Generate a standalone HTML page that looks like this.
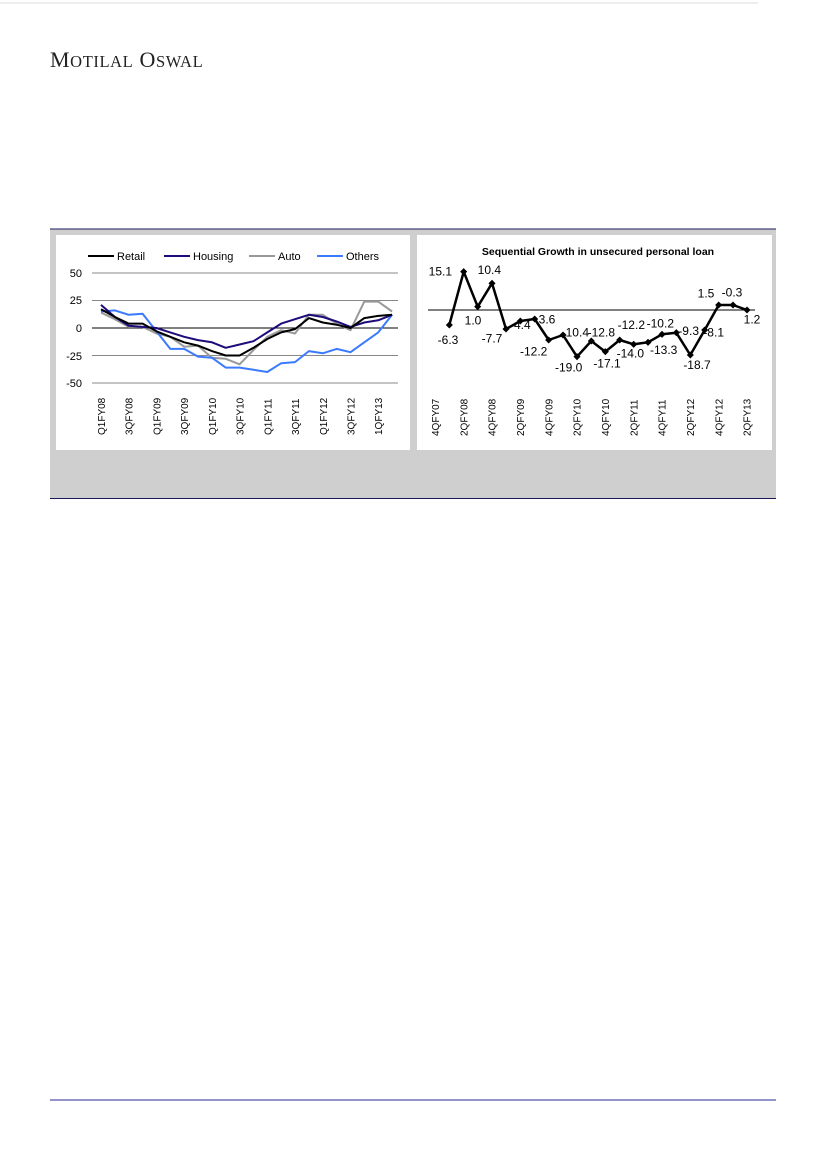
<!DOCTYPE html>
<html><head><meta charset="utf-8"><style>
body{margin:0;background:#fff;width:826px;height:1169px;position:relative;overflow:hidden;font-family:"Liberation Sans",sans-serif}
</style></head><body>
<svg width="826" height="1169" style="position:absolute;left:0;top:0">
<line x1="0" y1="3" x2="758" y2="3" stroke="#ddd" stroke-width="1"/>
<text x="50" y="67" font-family="Liberation Serif,serif" font-size="22" fill="#222" letter-spacing="0.6">M<tspan font-size="16.5">OTILAL</tspan> O<tspan font-size="16.5">SWAL</tspan></text>
<rect x="50" y="229" width="726" height="269" fill="#cfcfcf"/>
<line x1="50" y1="229" x2="776" y2="229" stroke="#1a1a5a" stroke-width="1"/>
<line x1="50" y1="498.5" x2="776" y2="498.5" stroke="#1a1a5a" stroke-width="1"/>
<rect x="56" y="235" width="354" height="215" fill="#fff"/>
<rect x="417" y="235" width="355" height="215" fill="#fff"/>
<line x1="50" y1="1100" x2="776" y2="1100" stroke="#2a2a9a" stroke-width="1"/>

<g font-size="11" fill="#000">
<line x1="88" y1="256" x2="114" y2="256" stroke="#000" stroke-width="2"/><text x="117" y="260">Retail</text>
<line x1="164" y1="256" x2="190" y2="256" stroke="#1e0a7a" stroke-width="2"/><text x="193" y="260">Housing</text>
<line x1="249" y1="256" x2="275" y2="256" stroke="#999" stroke-width="2"/><text x="278" y="260">Auto</text>
<line x1="317" y1="256" x2="343" y2="256" stroke="#3a7aff" stroke-width="2"/><text x="346" y="260">Others</text>
<g text-anchor="end"><text x="82" y="277">50</text><text x="82" y="304">25</text><text x="82" y="332">0</text><text x="82" y="360">-25</text><text x="82" y="387">-50</text></g>
</g>
<g stroke="#888" stroke-width="1">
<line x1="92" y1="273" x2="398" y2="273"/><line x1="92" y1="300.5" x2="398" y2="300.5"/><line x1="92" y1="355.5" x2="398" y2="355.5"/><line x1="92" y1="383" x2="398" y2="383"/>
</g>
<line x1="92" y1="328" x2="398" y2="328" stroke="#000" stroke-width="1"/>
<g fill="none" stroke-width="2" stroke-linejoin="round" id="lc"></g>
<g font-size="10" fill="#000" id="lx"></g>

<text x="598" y="255" font-size="10.5" font-weight="bold" text-anchor="middle" fill="#000">Sequential Growth in unsecured personal loan</text>
<line x1="428" y1="310" x2="755" y2="310" stroke="#000" stroke-width="1"/>
<g id="rc"></g>
<g font-size="12" fill="#000" text-anchor="middle" id="rl"></g>
<g font-size="10" fill="#000" id="rx"></g>
</svg>
<script>
var ns="http://www.w3.org/2000/svg";
function el(p,t,a,txt){var e=document.createElementNS(ns,t);for(var k in a)e.setAttribute(k,a[k]);if(txt!=null)e.textContent=txt;document.getElementById(p).appendChild(e);return e;}
var S={
"#999":[14,8,1,1,-5,-8,-17,-16,-27,-28,-33,-20,-8,-2,-5,12,12,4,-2,24,24,15],
"#3a7aff":[15,16,12,13,-3,-19,-19,-26,-27,-36,-36,-38,-40,-32,-31,-21,-23,-19,-22,-13,-4,12],
"#1e0a7a":[21,10,2,1,0,-4,-8,-11,-13,-18,-15,-12,-4,4,8,12,10,6,1,5,7,12],
"#000":[17,10,4,4,-3,-8,-13,-16,-21,-25,-25,-18,-10,-4,-1,9,5,3,0,9,11,12]};
for(var c in S){var pts=S[c].map(function(v,i){return (101+i*13.86).toFixed(1)+","+(328-v*1.1).toFixed(1)}).join(" ");el("lc","polyline",{points:pts,stroke:c});}
var LX=["Q1FY08","3QFY08","Q1FY09","3QFY09","Q1FY10","3QFY10","Q1FY11","3QFY11","Q1FY12","3QFY12","1QFY13"];
LX.forEach(function(t,i){var x=105+i*27.72;el("lx","text",{x:0,y:0,transform:"translate("+x+",435) rotate(-90)"},t);});
var zx=[112,155,197,240,282,325,368,410,453,495,538,580,623,665,708,750,793,835,878,920,963,1005];
var zy=[300,140,245,175,312,288,282,345,330,395,348,380,345,358,352,328,323,390,315,240,240,255];
var rp=zx.map(function(x,i){return [412+x/3,225+zy[i]/3]});
el("rc","polyline",{points:rp.map(function(p){return p[0].toFixed(1)+","+p[1].toFixed(1)}).join(" "),fill:"none",stroke:"#000","stroke-width":2.5,"stroke-linejoin":"round"});
rp.forEach(function(p){el("rc","rect",{x:p[0]-2.5,y:p[1]-2.5,width:5,height:5,fill:"#000",transform:"rotate(45 "+p[0]+" "+p[1]+")"});});
var L=[["15.1",85,140],["10.4",232,135],["1.0",183,287],["-6.3",108,345],["-7.7",240,340],["-4.4",325,300],["3.6",405,283],["-12.2",365,380],["-10.4",490,322],["-12.8",568,322],["-12.2",658,300],["-19.0",470,427],["-17.1",585,415],["-14.0",655,385],["-10.2",745,295],["-13.3",755,375],["-9.3",830,318],["-18.7",855,420],["-8.1",905,322],["1.5",882,205],["-0.3",960,202],["1.2",1020,283]];
L.forEach(function(l){el("rl","text",{x:412+l[1]/3,y:225+l[2]/3+4},l[0]);});
var RX=["4QFY07","2QFY08","4QFY08","2QFY09","4QFY09","2QFY10","4QFY10","2QFY11","4QFY11","2QFY12","4QFY12","2QFY13"];
RX.forEach(function(t,i){var x=412+(72+i*85)/3+3;el("rx","text",{x:0,y:0,transform:"translate("+x+",436) rotate(-90)"},t);});
</script>
</body></html>
